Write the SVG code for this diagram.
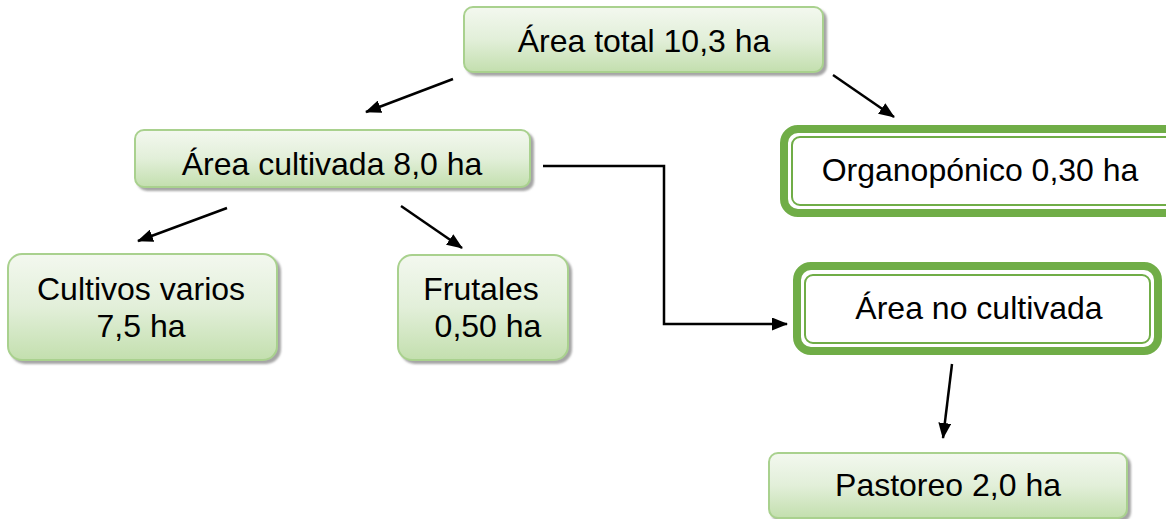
<svg xmlns="http://www.w3.org/2000/svg" width="1166" height="519" viewBox="0 0 1166 519">
  <defs>
    <linearGradient id="gFill" x1="0" y1="0" x2="0" y2="1">
      <stop offset="0" stop-color="#F3F8EF"/>
      <stop offset="0.5" stop-color="#E2EFD9"/>
      <stop offset="1" stop-color="#C3DFAE"/>
    </linearGradient>
    <filter id="shadow" x="-10%" y="-10%" width="130%" height="140%">
      <feDropShadow dx="3" dy="3" stdDeviation="1.2" flood-color="#7F7F7F" flood-opacity="0.7"/>
    </filter>
    <marker id="arrow" viewBox="0 0 16 13" refX="15" refY="6.5" markerWidth="16" markerHeight="13" orient="auto" markerUnits="userSpaceOnUse">
      <path d="M0,0 L16,6.5 L0,13 z" fill="#000"/>
    </marker>
  </defs>
  <style>
    .box { fill: url(#gFill); stroke: #A9D18E; stroke-width: 2; filter: url(#shadow); }
    .outer { fill: #FFFFFF; stroke: #70AD47; stroke-width: 8; }
    .inner { fill: none; stroke: #70AD47; stroke-width: 2; }
    .lbl { font-family: "Liberation Sans", Arial, sans-serif; font-size: 32px; fill: #000; text-anchor: middle; }
    .conn { fill: none; stroke: #000; stroke-width: 2.5; }
  </style>

  <rect width="1166" height="519" fill="#FFFFFF"/>

  <g id="n-total">
    <rect class="box" x="464" y="7" width="359" height="65" rx="9"/>
    <text class="lbl" x="644" y="52">Área total 10,3 ha</text>
  </g>

  <g id="n-cultivada">
    <rect class="box" x="135" y="130" width="395" height="57" rx="9"/>
    <text class="lbl" x="332" y="175">Área cultivada 8,0 ha</text>
  </g>

  <g id="n-organoponico">
    <rect class="outer" x="784" y="129" width="400" height="84" rx="14"/>
    <rect class="inner" x="792" y="137" width="384" height="68" rx="8"/>
    <text class="lbl" x="980" y="181">Organopónico 0,30 ha</text>
  </g>

  <g id="n-cultivos">
    <rect class="box" x="8" y="254" width="269" height="106" rx="14"/>
    <text class="lbl" x="141" y="300">Cultivos varios</text>
    <text class="lbl" x="141" y="337">7,5 ha</text>
  </g>

  <g id="n-frutales">
    <rect class="box" x="398" y="255" width="170" height="105" rx="14"/>
    <text class="lbl" x="481" y="300">Frutales</text>
    <text class="lbl" x="488" y="337">0,50 ha</text>
  </g>

  <g id="n-nocultivada">
    <rect class="outer" x="797" y="266" width="361" height="85" rx="14"/>
    <rect class="inner" x="805" y="275" width="345" height="68" rx="8"/>
    <text class="lbl" x="979" y="319">Área no cultivada</text>
  </g>

  <g id="n-pastoreo">
    <rect class="box" x="769" y="453" width="358" height="65" rx="9"/>
    <text class="lbl" x="948" y="496">Pastoreo 2,0 ha</text>
  </g>

  <g id="connectors">
    <line class="conn" x1="453" y1="79" x2="366" y2="112" marker-end="url(#arrow)"/>
    <line class="conn" x1="833" y1="75" x2="894" y2="117" marker-end="url(#arrow)"/>
    <line class="conn" x1="227" y1="208" x2="138" y2="241" marker-end="url(#arrow)"/>
    <line class="conn" x1="401" y1="206" x2="462" y2="248" marker-end="url(#arrow)"/>
    <polyline class="conn" points="543,166 664,166 664,324 787,324" marker-end="url(#arrow)"/>
    <line class="conn" x1="952" y1="364" x2="943" y2="438" marker-end="url(#arrow)"/>
  </g>
</svg>
